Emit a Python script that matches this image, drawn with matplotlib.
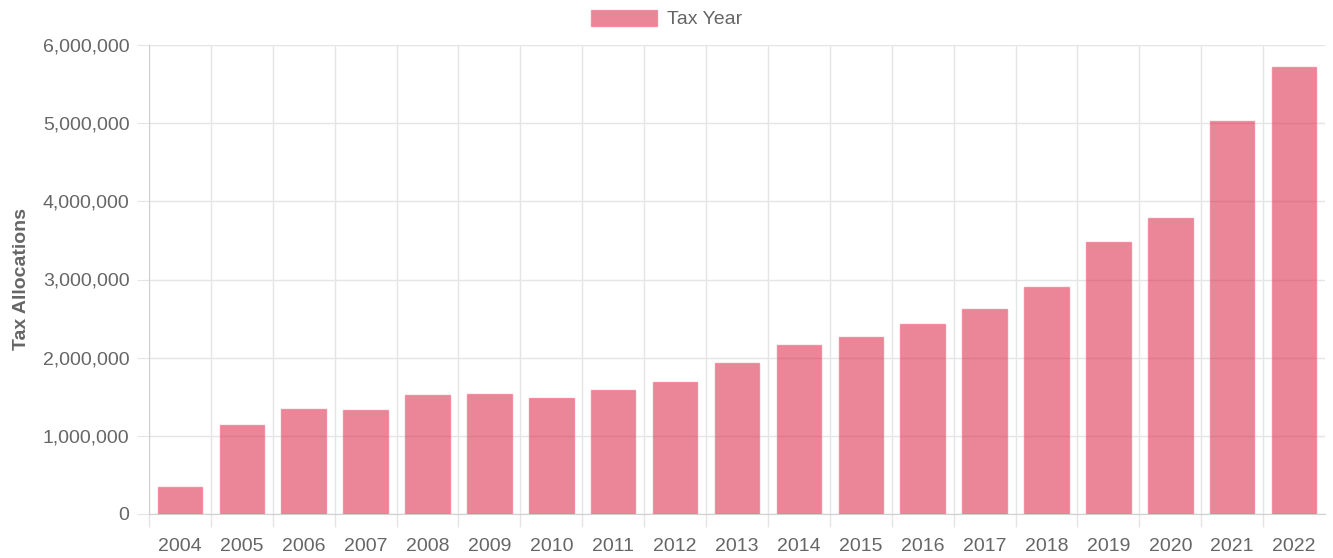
import matplotlib
matplotlib.use('Agg')
import matplotlib.pyplot as plt
from matplotlib.patches import Patch
from matplotlib.ticker import FuncFormatter, FixedLocator
import numpy as np

years = ['2004', '2005', '2006', '2007', '2008', '2009', '2010', '2011', '2012', '2013',
         '2014', '2015', '2016', '2017', '2018', '2019', '2020', '2021', '2022']
allocations = [342000, 1139000, 1347000, 1334000, 1528000, 1531000, 1484000, 1582000, 1693000, 1928000,
               2166000, 2268000, 2431000, 2627000, 2904000, 3480000, 3787000, 5027000, 5722000]
yticks = [0, 1000000, 2000000, 3000000, 4000000, 5000000, 6000000]

plt.rcParams['font.family'] = ['Liberation Sans', 'DejaVu Sans']
txt = '#666666'
grid = '#e5e5e5'
bar_fc = (220/255, 53/255, 83/255, 0.6)
bar_ec = (240/255, 120/255, 145/255, 0.7)

fig = plt.figure(figsize=(13.33, 5.58), dpi=100)
ax = fig.add_axes([149/1333, 44/558, 1176/1333, 469/558])

x = np.arange(len(years))
ax.bar(x, allocations, width=0.72, color=bar_fc, edgecolor=bar_ec, linewidth=1, zorder=3)

ax.set_xlim(-0.5, len(years) - 0.5)
ax.set_ylim(0, 6000000)
ax.set_yticks(yticks)
ax.yaxis.set_major_formatter(FuncFormatter(lambda v, p: '{:,}'.format(int(v))))
ax.set_xticks(x)
ax.set_xticklabels(years)
# category boundaries, no line at the right edge
ax.xaxis.set_minor_locator(FixedLocator(np.arange(-0.5, len(years) - 1, 1.0)))

ax.tick_params(axis='x', which='major', length=0, pad=17, labelsize=14, labelcolor=txt)
ax.tick_params(axis='x', which='minor', length=9, color=grid, width=1)
ax.tick_params(axis='y', which='major', length=9, pad=5, color=grid, labelsize=14, labelcolor=txt)

ax.grid(axis='y', which='major', color=grid, linewidth=1, zorder=0)
ax.grid(axis='x', which='minor', color=grid, linewidth=1, zorder=0)
ax.set_axisbelow(True)

for s in ['top', 'right']:
    ax.spines[s].set_visible(False)
ax.spines['left'].set_color('#d0d0d0')
ax.spines['bottom'].set_color('#d0d0d0')

ax.set_ylabel('Tax Allocations', fontsize=14, fontweight='bold', color=txt, labelpad=9)

handle = Patch(facecolor=bar_fc, edgecolor=bar_ec, linewidth=1)
fig.legend([handle], ['Tax Year'], loc='center', bbox_to_anchor=(0.5, 0.966),
           frameon=False, fontsize=14, labelcolor=txt,
           handlelength=3.4, handleheight=0.9, handletextpad=0.5)

fig.savefig('out.png', dpi=100)
